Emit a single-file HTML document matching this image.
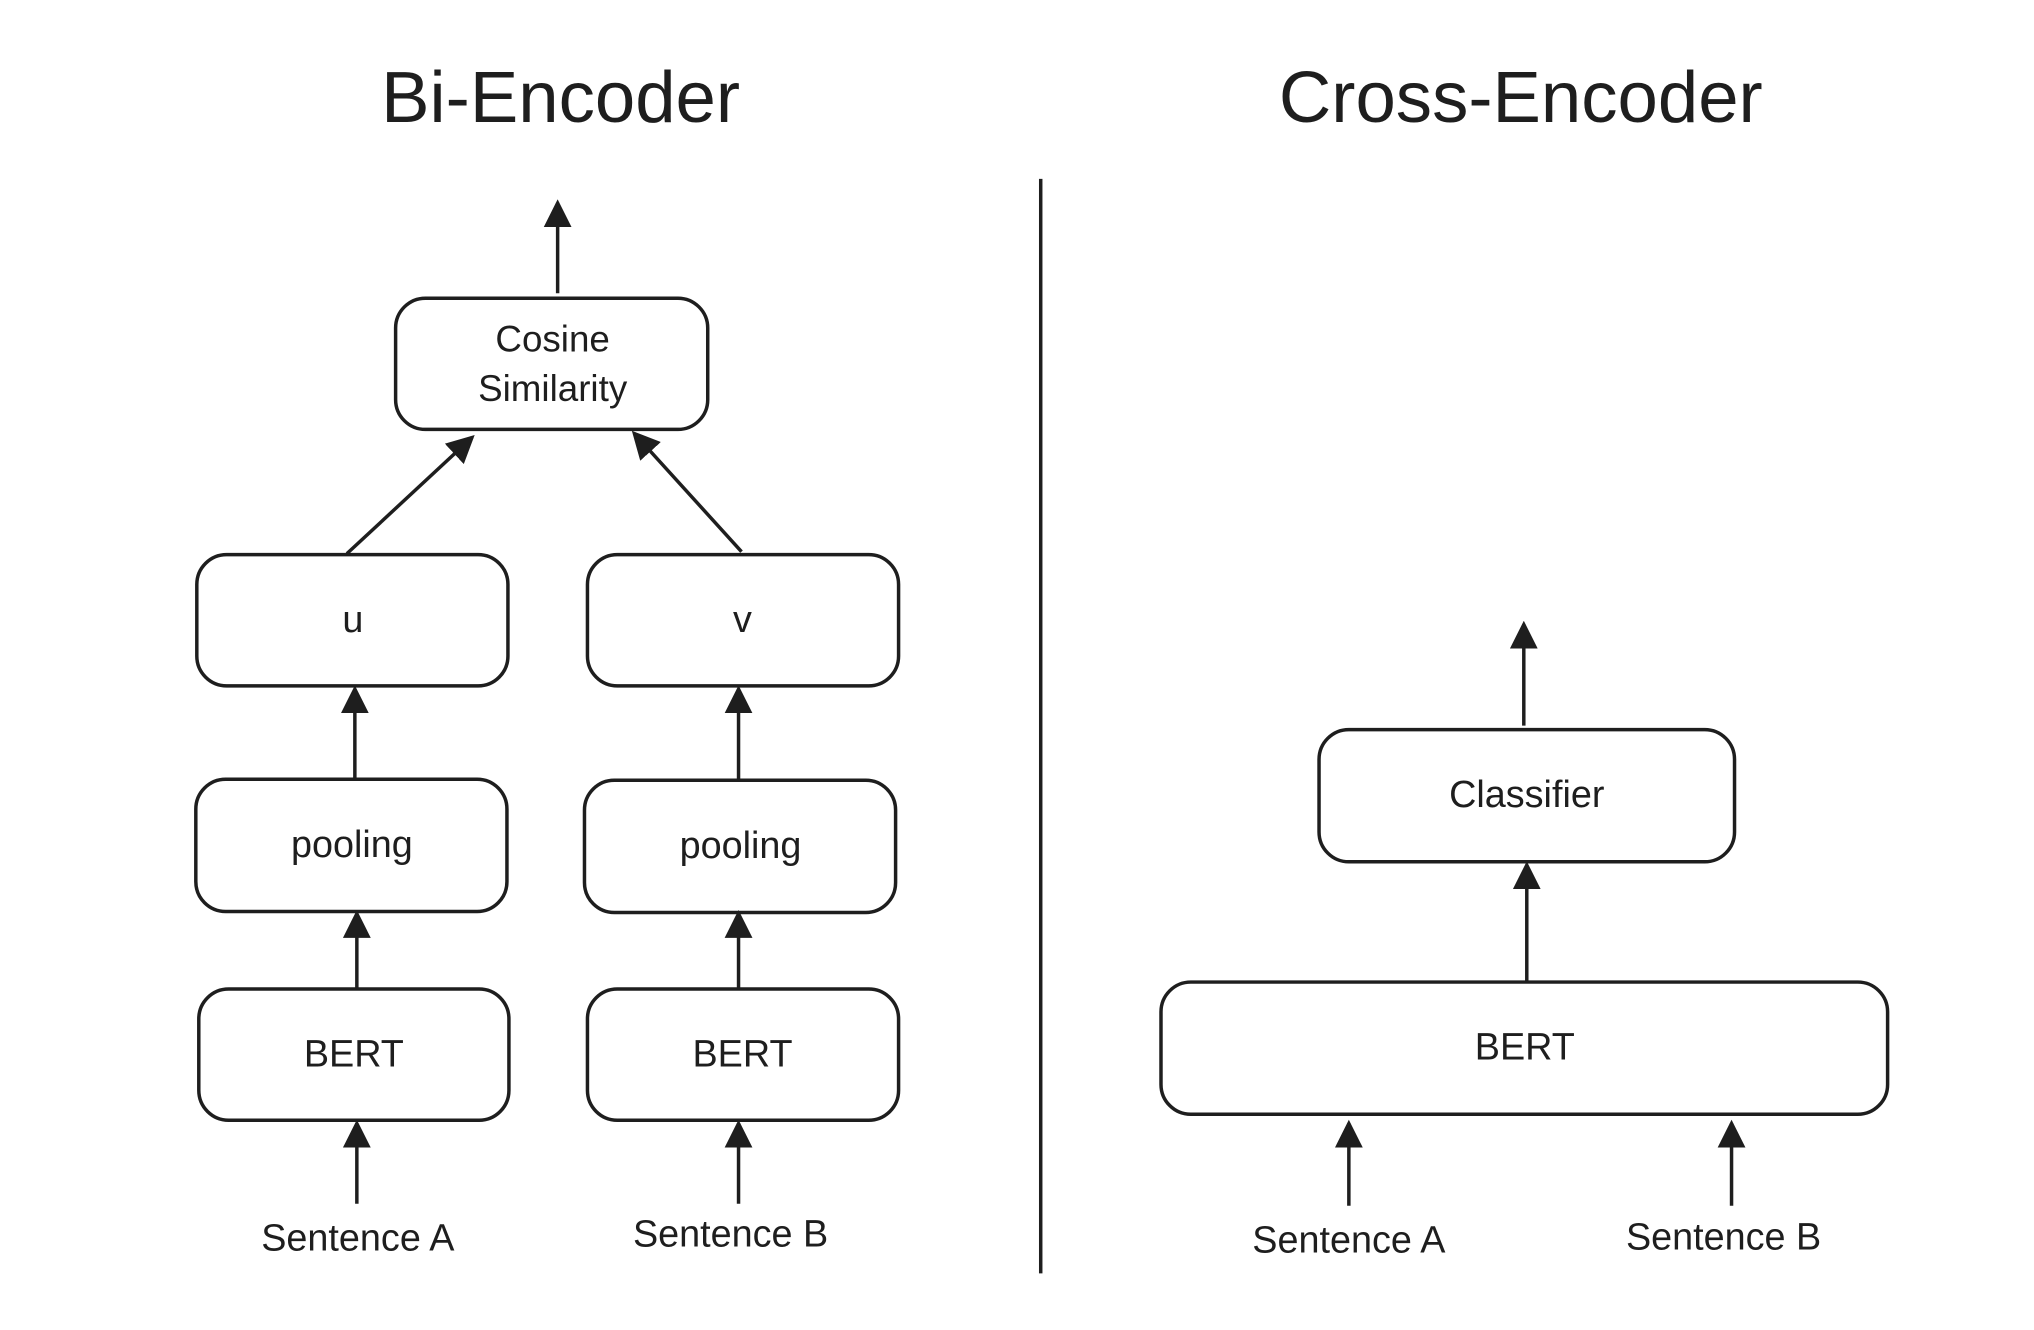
<!DOCTYPE html>
<html><head><meta charset="utf-8"><style>
html,body{margin:0;padding:0;background:#fff;}
svg{display:block;}
text{font-family:"Liberation Sans",sans-serif;fill:#1e1e1e;text-anchor:middle;dominant-baseline:central;}
</style></head><body>
<svg width="2034" height="1330" viewBox="0 0 2034 1330" xmlns="http://www.w3.org/2000/svg">
<defs>
<marker id="a" markerWidth="8" markerHeight="8" refX="7" refY="4" orient="auto" markerUnits="strokeWidth">
<path d="M0,0 L8,4 L0,8 Z" fill="#1e1e1e"/>
</marker>
</defs>
<g transform="scale(0.994)">
<g fill="none" stroke="#1e1e1e" stroke-width="3.5">
<rect x="398" y="300" width="314" height="132" rx="30"/>
<rect x="198" y="558" width="313" height="132" rx="30"/>
<rect x="591" y="558" width="313" height="132" rx="30"/>
<rect x="197" y="784" width="313" height="133" rx="30"/>
<rect x="588" y="785" width="313" height="133" rx="30"/>
<rect x="200" y="995" width="312" height="132" rx="30"/>
<rect x="591" y="995" width="313" height="132" rx="30"/>
<rect x="1327" y="734" width="418" height="133" rx="30"/>
<rect x="1168" y="988" width="731" height="133" rx="30"/>
<line x1="1047" y1="180" x2="1047" y2="1281"/>
</g>
<g stroke="#1e1e1e" stroke-width="3.5" marker-end="url(#a)">
<line x1="561" y1="295" x2="561" y2="204"/>
<line x1="349" y1="557" x2="475" y2="440"/>
<line x1="746" y1="555" x2="638" y2="436"/>
<line x1="357" y1="784" x2="357" y2="693"/>
<line x1="743" y1="784" x2="743" y2="693"/>
<line x1="359" y1="994" x2="359" y2="919"/>
<line x1="743" y1="994" x2="743" y2="919"/>
<line x1="359" y1="1211" x2="359" y2="1130"/>
<line x1="743" y1="1211" x2="743" y2="1130"/>
<line x1="1533" y1="730" x2="1533" y2="628"/>
<line x1="1536" y1="987" x2="1536" y2="870"/>
<line x1="1357" y1="1213" x2="1357" y2="1130"/>
<line x1="1742" y1="1213" x2="1742" y2="1130"/>
</g>
<text x="564" y="98" font-size="73">Bi-Encoder</text>
<text x="1530" y="98" font-size="73">Cross-Encoder</text>
<text x="556" y="341" font-size="37">Cosine</text>
<text x="556" y="391" font-size="37">Similarity</text>
<text x="355" y="624" font-size="38">u</text>
<text x="747" y="624" font-size="38">v</text>
<text x="354" y="850" font-size="38">pooling</text>
<text x="745" y="851" font-size="38">pooling</text>
<text x="356" y="1061" font-size="38">BERT</text>
<text x="747" y="1061" font-size="38">BERT</text>
<text x="1536" y="800" font-size="38">Classifier</text>
<text x="1534" y="1054" font-size="38">BERT</text>
<text x="360" y="1246" font-size="38">Sentence A</text>
<text x="735" y="1242" font-size="38">Sentence B</text>
<text x="1357" y="1248" font-size="38">Sentence A</text>
<text x="1734" y="1245" font-size="38">Sentence B</text>
</g>
</svg>
</body></html>
